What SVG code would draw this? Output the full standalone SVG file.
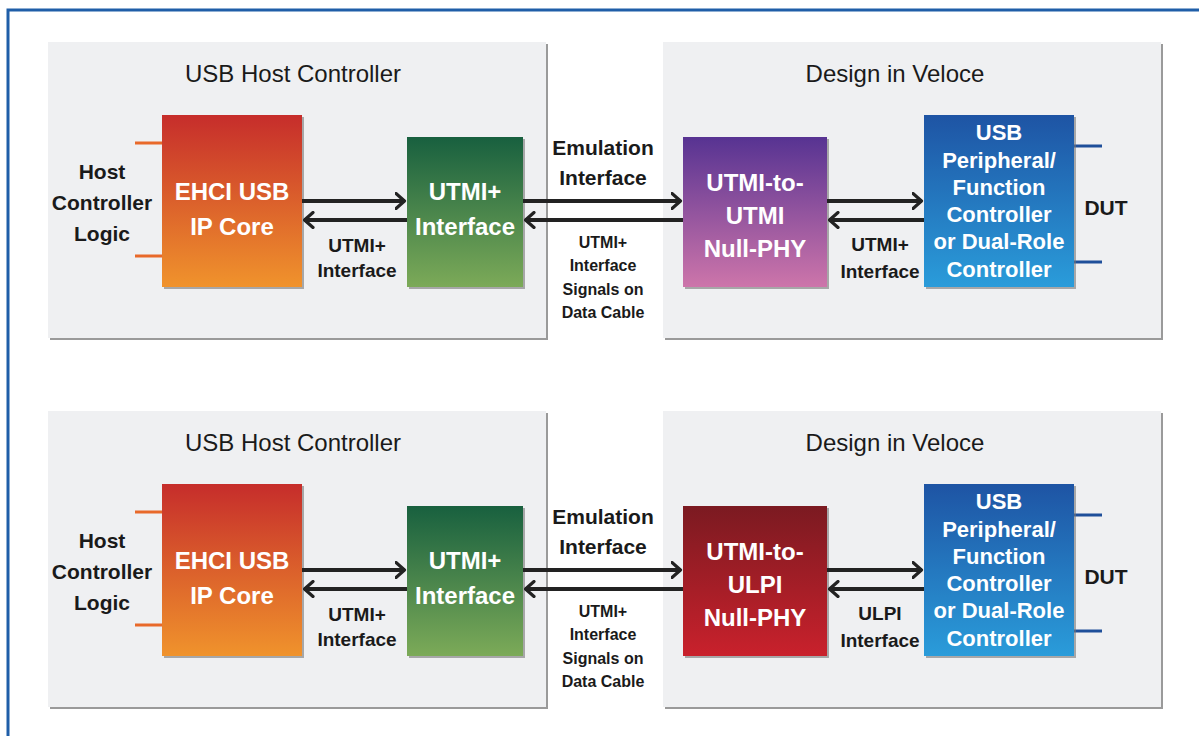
<svg xmlns="http://www.w3.org/2000/svg" width="1199" height="736" viewBox="0 0 1199 736">
<defs>
<linearGradient id="gOrange" x1="0" y1="0" x2="0" y2="1"><stop offset="0" stop-color="#c62d2b"/><stop offset="1" stop-color="#f0932c"/></linearGradient>
<linearGradient id="gGreen" x1="0" y1="0" x2="0" y2="1"><stop offset="0" stop-color="#18603f"/><stop offset="1" stop-color="#7caa58"/></linearGradient>
<linearGradient id="gPurple" x1="0" y1="0" x2="0" y2="1"><stop offset="0" stop-color="#573392"/><stop offset="1" stop-color="#cd75aa"/></linearGradient>
<linearGradient id="gRed" x1="0" y1="0" x2="0" y2="1"><stop offset="0" stop-color="#7b1a21"/><stop offset="1" stop-color="#c9212c"/></linearGradient>
<linearGradient id="gBlue" x1="0" y1="0" x2="0" y2="1"><stop offset="0" stop-color="#1e54a4"/><stop offset="1" stop-color="#2a9cda"/></linearGradient>
<marker id="arr" viewBox="0 0 12 18" refX="10.5" refY="9" markerWidth="12" markerHeight="18" markerUnits="userSpaceOnUse" orient="auto">
<path d="M1.5,1.5 L10,9 L1.5,16.5" fill="none" stroke="#222" stroke-width="3.2" stroke-linecap="round" stroke-linejoin="round"/>
</marker>
<style>
.panel{fill:#eff0f2;}
.pshadow{fill:#9a9a9a;}
.bshadow{fill:#777;opacity:0.6;}
.t{font-family:"Liberation Sans",Arial,sans-serif;fill:#1a1a1a;text-anchor:middle;}
.title{font-size:24px;}
.lbl{font-size:21px;font-weight:bold;}
.sm{font-size:19px;font-weight:bold;}
.xs{font-size:16px;font-weight:bold;}
.w{font-family:"Liberation Sans",Arial,sans-serif;fill:#fff;text-anchor:middle;font-weight:bold;}
.big{font-size:24px;}
.med{font-size:22px;}
.wire{stroke:#222;stroke-width:4;fill:none;marker-end:url(#arr);}
.stubO{stroke:#e8692a;stroke-width:3;}
.stubB{stroke:#1e4f9a;stroke-width:3;}
</style>
</defs>
<rect x="0" y="0" width="1199" height="736" fill="#fff"/>
<rect x="8" y="10" width="1200" height="740" fill="none" stroke="#1f5ea8" stroke-width="3"/>

<!-- Panels -->
<g id="panel-host-top">
<rect class="pshadow" x="50" y="44" width="498" height="296"/>
<rect class="panel" x="48" y="42" width="498" height="296"/>
<text class="t title" x="293" y="82">USB Host Controller</text>
</g>
<g id="panel-veloce-top">
<rect class="pshadow" x="665" y="44" width="498" height="296"/>
<rect class="panel" x="663" y="42" width="498" height="296"/>
<text class="t title" x="895" y="82">Design in Veloce</text>
</g>
<g id="panel-host-bottom">
<rect class="pshadow" x="50" y="413" width="498" height="296"/>
<rect class="panel" x="48" y="411" width="498" height="296"/>
<text class="t title" x="293" y="451">USB Host Controller</text>
</g>
<g id="panel-veloce-bottom">
<rect class="pshadow" x="665" y="413" width="498" height="296"/>
<rect class="panel" x="663" y="411" width="498" height="296"/>
<text class="t title" x="895" y="451">Design in Veloce</text>
</g>

<!-- Top row nodes -->
<g id="host-logic-top">
<text class="t lbl" x="102" y="179">Host</text>
<text class="t lbl" x="102" y="210">Controller</text>
<text class="t lbl" x="102" y="241">Logic</text>
</g>
<g id="ehci-top">
<line class="stubO" x1="135" y1="143" x2="162" y2="143"/>
<line class="stubO" x1="135" y1="256" x2="162" y2="256"/>
<rect class="bshadow" x="164" y="117" width="140" height="172"/>
<rect x="162" y="115" width="140" height="172" fill="url(#gOrange)"/>
<text class="w big" x="232" y="200">EHCI USB</text>
<text class="w big" x="232" y="235">IP Core</text>
</g>
<g id="utmi-if-top">
<rect class="bshadow" x="409" y="139" width="116" height="150"/>
<rect x="407" y="137" width="116" height="150" fill="url(#gGreen)"/>
<text class="w big" x="465" y="200">UTMI+</text>
<text class="w big" x="465" y="235">Interface</text>
</g>
<g id="nullphy-top">
<rect class="bshadow" x="685" y="139" width="144" height="150"/>
<rect x="683" y="137" width="144" height="150" fill="url(#gPurple)"/>
<text class="w big" x="755" y="191">UTMI-to-</text>
<text class="w big" x="755" y="224">UTMI</text>
<text class="w big" x="755" y="257">Null-PHY</text>
</g>
<g id="usb-periph-top">
<line class="stubB" x1="1074" y1="146" x2="1102" y2="146"/>
<line class="stubB" x1="1074" y1="262" x2="1102" y2="262"/>
<rect class="bshadow" x="926" y="117" width="150" height="172"/>
<rect x="924" y="115" width="150" height="172" fill="url(#gBlue)"/>
<text class="w med" x="999" y="140">USB</text>
<text class="w med" x="999" y="168">Peripheral/</text>
<text class="w med" x="999" y="195">Function</text>
<text class="w med" x="999" y="222">Controller</text>
<text class="w med" x="999" y="249">or Dual-Role</text>
<text class="w med" x="999" y="277">Controller</text>
<text class="t lbl" x="1106" y="215">DUT</text>
</g>

<!-- Bottom row nodes -->
<g id="host-logic-bottom">
<text class="t lbl" x="102" y="548">Host</text>
<text class="t lbl" x="102" y="579">Controller</text>
<text class="t lbl" x="102" y="610">Logic</text>
</g>
<g id="ehci-bottom">
<line class="stubO" x1="135" y1="512" x2="162" y2="512"/>
<line class="stubO" x1="135" y1="625" x2="162" y2="625"/>
<rect class="bshadow" x="164" y="486" width="140" height="172"/>
<rect x="162" y="484" width="140" height="172" fill="url(#gOrange)"/>
<text class="w big" x="232" y="569">EHCI USB</text>
<text class="w big" x="232" y="604">IP Core</text>
</g>
<g id="utmi-if-bottom">
<rect class="bshadow" x="409" y="508" width="116" height="150"/>
<rect x="407" y="506" width="116" height="150" fill="url(#gGreen)"/>
<text class="w big" x="465" y="569">UTMI+</text>
<text class="w big" x="465" y="604">Interface</text>
</g>
<g id="nullphy-bottom">
<rect class="bshadow" x="685" y="508" width="144" height="150"/>
<rect x="683" y="506" width="144" height="150" fill="url(#gRed)"/>
<text class="w big" x="755" y="560">UTMI-to-</text>
<text class="w big" x="755" y="593">ULPI</text>
<text class="w big" x="755" y="626">Null-PHY</text>
</g>
<g id="usb-periph-bottom">
<line class="stubB" x1="1074" y1="515" x2="1102" y2="515"/>
<line class="stubB" x1="1074" y1="631" x2="1102" y2="631"/>
<rect class="bshadow" x="926" y="486" width="150" height="172"/>
<rect x="924" y="484" width="150" height="172" fill="url(#gBlue)"/>
<text class="w med" x="999" y="509">USB</text>
<text class="w med" x="999" y="537">Peripheral/</text>
<text class="w med" x="999" y="564">Function</text>
<text class="w med" x="999" y="591">Controller</text>
<text class="w med" x="999" y="618">or Dual-Role</text>
<text class="w med" x="999" y="646">Controller</text>
<text class="t lbl" x="1106" y="584">DUT</text>
</g>

<!-- Connectors -->
<g id="connectors">
<line class="wire" x1="302" y1="201" x2="405" y2="201"/>
<line class="wire" x1="407" y1="220" x2="304" y2="220"/>
<line class="wire" x1="523" y1="201" x2="681" y2="201"/>
<line class="wire" x1="683" y1="220" x2="525" y2="220"/>
<line class="wire" x1="827" y1="201" x2="922" y2="201"/>
<line class="wire" x1="924" y1="220" x2="829" y2="220"/>

<line class="wire" x1="302" y1="570" x2="405" y2="570"/>
<line class="wire" x1="407" y1="589" x2="304" y2="589"/>
<line class="wire" x1="523" y1="570" x2="681" y2="570"/>
<line class="wire" x1="683" y1="589" x2="525" y2="589"/>
<line class="wire" x1="827" y1="570" x2="922" y2="570"/>
<line class="wire" x1="924" y1="589" x2="829" y2="589"/>
</g>

<!-- Connector labels -->
<g id="connector-labels">
<text class="t sm" x="357" y="252">UTMI+</text>
<text class="t sm" x="357" y="277">Interface</text>
<text class="t lbl" x="603" y="155">Emulation</text>
<text class="t lbl" x="603" y="185">Interface</text>
<text class="t xs" x="603" y="248">UTMI+</text>
<text class="t xs" x="603" y="271">Interface</text>
<text class="t xs" x="603" y="295">Signals on</text>
<text class="t xs" x="603" y="318">Data Cable</text>
<text class="t sm" x="880" y="251">UTMI+</text>
<text class="t sm" x="880" y="278">Interface</text>

<text class="t sm" x="357" y="621">UTMI+</text>
<text class="t sm" x="357" y="646">Interface</text>
<text class="t lbl" x="603" y="524">Emulation</text>
<text class="t lbl" x="603" y="554">Interface</text>
<text class="t xs" x="603" y="617">UTMI+</text>
<text class="t xs" x="603" y="640">Interface</text>
<text class="t xs" x="603" y="664">Signals on</text>
<text class="t xs" x="603" y="687">Data Cable</text>
<text class="t sm" x="880" y="620">ULPI</text>
<text class="t sm" x="880" y="647">Interface</text>
</g>
</svg>
